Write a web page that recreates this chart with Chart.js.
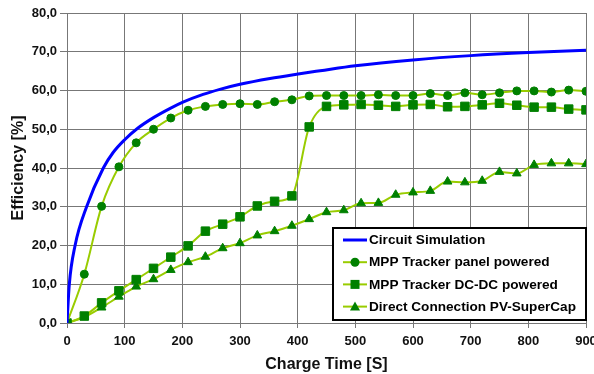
<!DOCTYPE html>
<html>
<head>
<meta charset="utf-8">
<script src="https://cdn.jsdelivr.net/npm/chart.js@4/dist/chart.umd.min.js"></script>
<style>
  html, body { margin: 0; padding: 0; background: #fff; }
  #wrap { width: 594px; height: 374px; }
</style>
</head>
<body>
<div id="wrap"><canvas id="graficoEficiencia"></canvas></div>
<script>
// measured charge times (s)
const tiempos = [0, 30, 60, 90, 120, 150, 180, 210, 240, 270, 300, 330, 360, 390, 420, 450,
    480, 510, 540, 570, 600, 630, 660, 690, 720, 750, 780, 810, 840, 870, 900];

const panelPowered = [0, 12.6, 30.1, 40.3, 46.5, 50.0, 52.9, 54.9, 55.9, 56.4, 56.6, 56.4, 57.1, 57.6, 58.6, 58.7,
    58.7, 58.7, 58.9, 58.7, 58.7, 59.2, 58.7, 59.4, 58.9, 59.4, 59.9, 59.9, 59.6, 60.1, 59.8];

const dcdcPowered = [0, 1.8, 5.2, 8.3, 11.2, 14.1, 17.0, 19.9, 23.7, 25.5, 27.4, 30.2, 31.4, 32.8, 50.6, 55.9,
    56.3, 56.4, 56.2, 55.9, 56.3, 56.4, 55.8, 55.9, 56.3, 56.7, 56.2, 55.7, 55.7, 55.2, 55.0];

const directConn = [0, 1.5, 4.0, 6.8, 9.4, 11.3, 13.7, 15.7, 17.1, 19.3, 20.6, 22.6, 23.7, 25.1, 26.8, 28.6,
    29.1, 30.9, 31.0, 33.1, 33.7, 34.1, 36.5, 36.3, 36.7, 39.0, 38.6, 40.8, 41.2, 41.2, 41.0];

// simulated curve, sampled off the plot
const simTiempos = [0, 4, 14, 34, 63, 80, 100, 122, 150, 179, 201, 236, 265, 300, 352, 398, 439, 500, 600, 700, 800, 900];
const simValores = [0, 10, 20, 30, 40, 44, 47.3, 50.2, 53.0, 55.4, 57.0, 59.0, 60.3, 61.6, 63.1, 64.2, 65.1, 66.4, 67.9, 69.0, 69.8, 70.4];

const yTicks = [0, 10, 20, 30, 40, 50, 60, 70, 80];

const pares = (xs, ys) => xs.map((x, i) => ({ x: x, y: ys[i] }));

const verde = '#99CC00';
const verdeOscuro = '#008000';
const fuente = '"Liberation Sans", Arial, sans-serif';

const leyendaCaja = {
    id: 'leyendaCaja',
    afterDatasetsDraw(chart) {
        const c = chart.ctx;
        const x0 = 333, y0 = 228, w = 253, h = 92;
        c.save();
        c.fillStyle = '#fff';
        c.fillRect(x0, y0, w, h);
        c.lineWidth = 2;
        c.strokeStyle = '#000';
        c.strokeRect(x0, y0, w, h);
        c.font = 'bold 13.6px ' + fuente;
        c.textBaseline = 'middle';
        chart.data.datasets.forEach((ds, i) => {
            const y = 240 + i * 22.2;
            c.strokeStyle = ds.borderColor;
            c.lineWidth = ds.borderWidth;
            c.beginPath();
            c.moveTo(343, y);
            c.lineTo(367, y);
            c.stroke();
            if (ds.pointRadius > 0) {
                c.fillStyle = ds.pointBackgroundColor;
                c.beginPath();
                if (ds.pointStyle === 'circle') {
                    c.arc(355, y, 4.5, 0, Math.PI * 2);
                } else if (ds.pointStyle === 'rect') {
                    c.rect(350.5, y - 4.5, 9, 9);
                } else {
                    c.moveTo(355, y - 5);
                    c.lineTo(360, y + 4);
                    c.lineTo(350, y + 4);
                    c.closePath();
                }
                c.fill();
            }
            c.fillStyle = '#000';
            c.fillText(ds.label, 369, y + 0.5);
        });
        c.restore();
    }
};

document.addEventListener('DOMContentLoaded', function () {
    const ctx = document.getElementById('graficoEficiencia');
    new Chart(ctx.getContext('2d'), {
        type: 'line',
        data: {
            datasets: [{
                label: 'Circuit Simulation',
                data: pares(simTiempos, simValores),
                borderColor: '#0000FF',
                borderWidth: 3,
                pointRadius: 0,
                cubicInterpolationMode: 'monotone',
            }, {
                label: 'MPP Tracker panel powered',
                data: pares(tiempos, panelPowered),
                borderColor: verde,
                borderWidth: 2,
                pointStyle: 'circle',
                pointRadius: 4,
                pointBackgroundColor: verdeOscuro,
                pointBorderColor: verdeOscuro,
                pointBorderWidth: 1,
                cubicInterpolationMode: 'monotone',
            }, {
                label: 'MPP Tracker DC-DC powered',
                data: pares(tiempos, dcdcPowered),
                borderColor: verde,
                borderWidth: 2,
                pointStyle: 'rect',
                pointRadius: 6,
                pointBackgroundColor: verdeOscuro,
                pointBorderColor: verdeOscuro,
                pointBorderWidth: 1,
                cubicInterpolationMode: 'monotone',
            }, {
                label: 'Direct Connection PV-SuperCap',
                data: pares(tiempos, directConn),
                borderColor: verde,
                borderWidth: 2,
                pointStyle: 'triangle',
                pointRadius: 5,
                pointBackgroundColor: verdeOscuro,
                pointBorderColor: verdeOscuro,
                pointBorderWidth: 1,
                cubicInterpolationMode: 'monotone',
            }]
        },
        options: {
            responsive: true,
            maintainAspectRatio: false,
            animation: false,
            layout: { padding: { top: 13, right: 8, left: 0, bottom: 0 } },
            scales: {
                x: {
                    type: 'linear',
                    min: 0,
                    max: 900,
                    grid: { color: '#777', tickLength: 5, tickColor: '#777' },
                    border: { color: '#777' },
                    ticks: {
                        stepSize: 100,
                        maxRotation: 0,
                        padding: 6,
                        color: '#111',
                        font: { family: fuente, size: 13, weight: 'bold' }
                    },
                    title: {
                        display: true,
                        text: 'Charge Time [S]',
                        color: '#111',
                        padding: { top: 0, bottom: 0 },
                        font: { family: fuente, size: 16, weight: 'bold', lineHeight: 1.2 }
                    },
                    afterFit: s => { s.height = 51; s.paddingLeft = 0; s.paddingRight = 0; }
                },
                y: {
                    min: 0,
                    max: 80,
                    grid: { color: '#777', tickLength: 7, tickColor: '#777' },
                    border: { color: '#777' },
                    afterBuildTicks: s => { s.ticks = yTicks.map(v => ({ value: v })); },
                    ticks: {
                        padding: 3,
                        color: '#111',
                        callback: value => value.toFixed(1).replace('.', ','),
                        font: { family: fuente, size: 13, weight: 'bold' }
                    },
                    title: {
                        display: true,
                        text: 'Efficiency [%]',
                        color: '#111',
                        padding: { top: 9, bottom: 0 },
                        font: { family: fuente, size: 16, weight: 'bold', lineHeight: 1.2 }
                    },
                    afterFit: s => { s.width = 67; s.paddingTop = 0; s.paddingBottom = 0; }
                }
            },
            plugins: {
                legend: { display: false },
                tooltip: { enabled: false }
            }
        },
        plugins: [leyendaCaja]
    });
});
</script>
</body>
</html>
